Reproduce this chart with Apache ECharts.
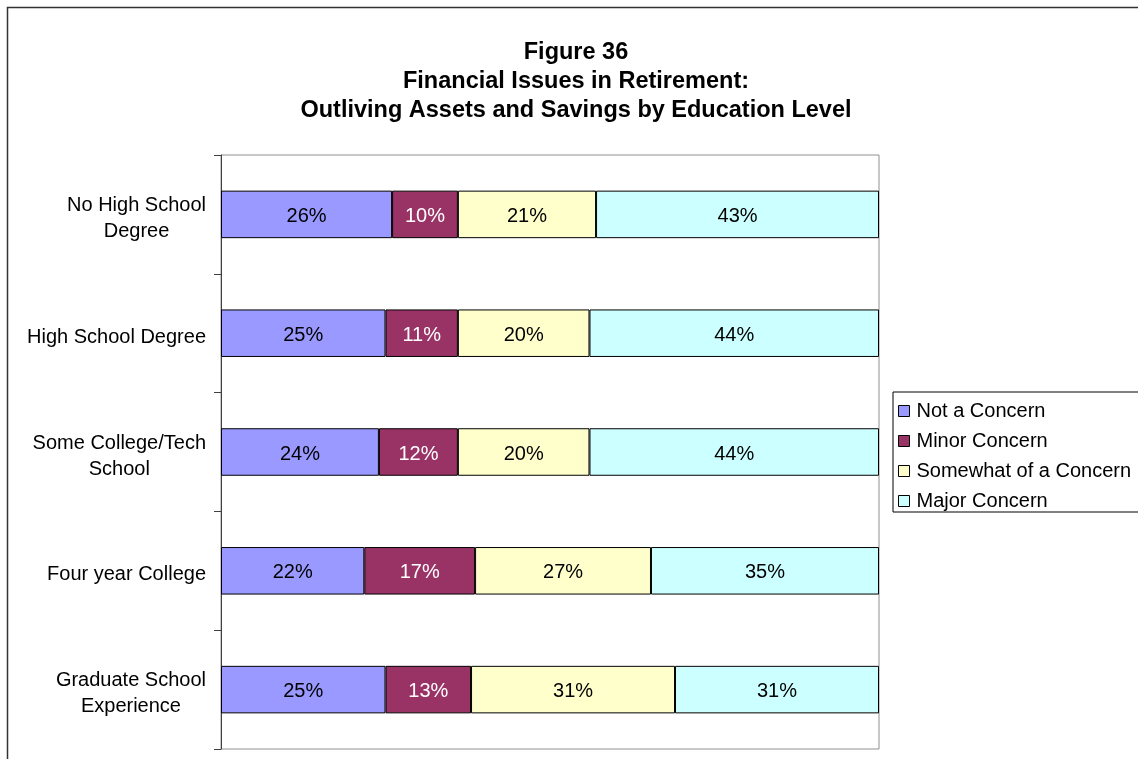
<!DOCTYPE html>
<html>
<head>
<meta charset="utf-8">
<script src="https://cdn.jsdelivr.net/npm/echarts@6/dist/echarts.min.js"></script>
<style>
  html, body { margin: 0; padding: 0; background: #fff; }
  #chart { width: 1138px; height: 759px; }
</style>
</head>
<body>
<div id="chart"></div>
<script>
// Education levels (top to bottom) and answer shares in percent
const categories = [
  'No High School\nDegree',
  'High School Degree',
  'Some College/Tech\nSchool',
  'Four year College',
  'Graduate School\nExperience'
];
const notConcern = [26, 25, 24, 22, 25];
const minorConcern = [10, 11, 12, 17, 13];
const somewhatConcern = [21, 20, 20, 27, 31];
const majorConcern = [43, 44, 44, 35, 31];

const seriesNames = ['Not a Concern', 'Minor Concern', 'Somewhat of a Concern', 'Major Concern'];
const seriesValues = [notConcern, minorConcern, somewhatConcern, majorConcern];
const seriesColors = ['#9999FF', '#993366', '#FFFFCC', '#CCFFFF'];
const labelColors = ['#000', '#fff', '#000', '#000'];

// Each row is drawn as a 100% stacked bar: shares are scaled by the row total
const rowTotals = categories.map((_, i) =>
  seriesValues.reduce((s, arr) => s + arr[i], 0));

const font = '"Liberation Sans", Arial, sans-serif';

const chart = echarts.init(document.getElementById('chart'), null, { renderer: 'canvas' });

const series = seriesNames.map((name, k) => ({
  name: name,
  type: 'bar',
  stack: 'total',
  barWidth: '40%',
  data: seriesValues[k].map((v, i) => ({ value: v / rowTotals[i] * 100, raw: v })),
  itemStyle: { color: seriesColors[k], borderColor: '#000', borderWidth: 1 },
  label: {
    show: true,
    position: 'inside',
    offset: [0, 2],
    color: labelColors[k],
    fontFamily: font,
    fontSize: 20,
    formatter: p => p.data.raw + '%'
  },
  emphasis: { disabled: true }
}));

chart.setOption({
  animation: false,
  backgroundColor: '#fff',
  title: {
    text: 'Figure 36\nFinancial Issues in Retirement:\nOutliving Assets and Savings by Education Level',
    left: 576,
    top: 38,
    padding: 0,
    textAlign: 'center',
    textStyle: {
      fontFamily: font,
      fontSize: 23.5,
      fontWeight: 'bold',
      lineHeight: 29,
      color: '#000'
    }
  },
  legend: {
    orient: 'vertical',
    left: 893,
    top: 392,
    padding: [9, 20, 1, 5],
    itemGap: 10,
    itemWidth: 11,
    itemHeight: 11,
    icon: 'rect',
    borderColor: '#000',
    borderWidth: 1,
    itemStyle: { borderColor: '#000', borderWidth: 1 },
    textStyle: {
      fontFamily: font,
      fontSize: 20,
      lineHeight: 20,
      color: '#000',
      padding: [0, 0, 0, 2]
    },
    data: seriesNames
  },
  grid: {
    left: 221,
    top: 155,
    right: 259,
    bottom: 10,
    show: true,
    borderColor: '#909090',
    borderWidth: 1,
    containLabel: false
  },
  xAxis: {
    type: 'value',
    min: 0,
    max: 100,
    show: false
  },
  yAxis: {
    type: 'category',
    inverse: true,
    data: categories,
    axisLine: { show: true, lineStyle: { color: '#404040', width: 1 } },
    axisTick: { show: true, length: 7, lineStyle: { color: '#404040' } },
    axisLabel: {
      margin: 15,
      color: '#000',
      fontFamily: font,
      fontSize: 20,
      padding: [8, 0, 0, 0],
      formatter: v => v.split('\n').map(s => '{c|' + s + '}').join('\n'),
      rich: {
        c: { align: 'center', fontFamily: font, fontSize: 20, lineHeight: 26, color: '#000' }
      }
    },
    splitLine: { show: false }
  },
  graphic: [{
    type: 'rect',
    shape: { x: 7.5, y: 7.5, width: 1200, height: 800 },
    style: { fill: 'none', stroke: '#333', lineWidth: 1.5 },
    silent: true,
    z: -1
  }],
  series: series
});
</script>
</body>
</html>
